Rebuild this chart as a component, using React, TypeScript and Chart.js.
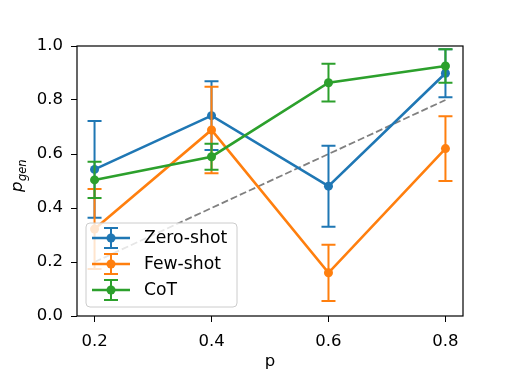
import React, { useEffect, useRef } from "react";
import { Chart, registerables } from "chart.js";

Chart.register(...registerables);

const ps = [0.2, 0.4, 0.6, 0.8];
const xTicks = [0.2, 0.4, 0.6, 0.8];
const zeroShot = [0.543, 0.742, 0.481, 0.899];
const zeroShotErr = [0.179, 0.127, 0.15, 0.089];
const fewShot = [0.322, 0.689, 0.16, 0.62];
const fewShotErr = [0.148, 0.16, 0.104, 0.12];
const cot = [0.504, 0.59, 0.864, 0.926];
const cotErr = [0.067, 0.048, 0.07, 0.062];
const refX = [0.2, 0.8];
const refY = [0.2, 0.8];

const BLUE = "#1f77b4";
const ORANGE = "#ff7f0e";
const GREEN = "#2ca02c";
const FONT = "DejaVu Sans";
const FS = 16.5;
const LEG_FS = 17.2;

const seriesInfo = [
  { label: "Zero-shot", color: BLUE, values: zeroShot, errs: zeroShotErr, order: 2 },
  { label: "Few-shot", color: ORANGE, values: fewShot, errs: fewShotErr, order: 1 },
  { label: "CoT", color: GREEN, values: cot, errs: cotErr, order: 0 },
];

const errorBarPlugin = {
  id: "errorBars",
  beforeDatasetDraw(chart: any, args: any) {
    const ds = chart.data.datasets[args.index];
    if (!ds.errs) return;
    const xs = chart.scales.x;
    const ys = chart.scales.y;
    const ctx = chart.ctx;
    ctx.save();
    ctx.strokeStyle = ds.borderColor;
    ctx.lineWidth = 2;
    ds.data.forEach((pt: any, i: number) => {
      const e = ds.errs[i];
      const px = xs.getPixelForValue(pt.x);
      const top = ys.getPixelForValue(pt.y + e);
      const bot = ys.getPixelForValue(pt.y - e);
      ctx.beginPath();
      ctx.moveTo(px, top);
      ctx.lineTo(px, bot);
      ctx.moveTo(px - 7, top);
      ctx.lineTo(px + 7, top);
      ctx.moveTo(px - 7, bot);
      ctx.lineTo(px + 7, bot);
      ctx.stroke();
    });
    ctx.restore();
  },
  afterDatasetsDraw(chart: any) {
    const { ctx, chartArea } = chart;
    ctx.save();
    ctx.strokeStyle = "#000";
    ctx.lineWidth = 1.2;
    ctx.strokeRect(chartArea.left, chartArea.top, chartArea.right - chartArea.left, chartArea.bottom - chartArea.top);
    ctx.restore();
  },
  afterDraw(chart: any) {
    const { ctx, chartArea } = chart;
    ctx.save();
    // x axis title
    ctx.fillStyle = "#000";
    ctx.font = `${FS}px "${FONT}"`;
    ctx.textAlign = "center";
    ctx.textBaseline = "alphabetic";
    ctx.fillText("p", (chartArea.left + chartArea.right) / 2, 366);
    // y axis title p_gen
    ctx.save();
    ctx.translate(22, 176);
    ctx.rotate(-Math.PI / 2);
    ctx.textAlign = "left";
    const bigFont = `italic ${FS}px "${FONT}"`;
    const smallFont = `italic 11.5px "${FONT}"`;
    ctx.font = bigFont;
    const w1 = ctx.measureText("p").width;
    ctx.font = smallFont;
    const w2 = ctx.measureText("gen").width;
    const start = -(w1 + w2) / 2;
    ctx.font = bigFont;
    ctx.fillText("p", start, 0);
    ctx.font = smallFont;
    ctx.fillText("gen", start + w1 + 0.5, 3.5);
    ctx.restore();

    // legend
    const lx = 86, ly = 223, lw = 151, lh = 84, r = 4;
    ctx.beginPath();
    ctx.moveTo(lx + r, ly);
    ctx.lineTo(lx + lw - r, ly);
    ctx.quadraticCurveTo(lx + lw, ly, lx + lw, ly + r);
    ctx.lineTo(lx + lw, ly + lh - r);
    ctx.quadraticCurveTo(lx + lw, ly + lh, lx + lw - r, ly + lh);
    ctx.lineTo(lx + r, ly + lh);
    ctx.quadraticCurveTo(lx, ly + lh, lx, ly + lh - r);
    ctx.lineTo(lx, ly + r);
    ctx.quadraticCurveTo(lx, ly, lx + r, ly);
    ctx.closePath();
    ctx.fillStyle = "rgba(255,255,255,0.8)";
    ctx.fill();
    ctx.strokeStyle = "#cccccc";
    ctx.lineWidth = 1;
    ctx.stroke();

    const rows = [238, 264, 290];
    seriesInfo.forEach((s, i) => {
      const y = rows[i];
      const cx = 111;
      ctx.strokeStyle = s.color;
      ctx.lineWidth = 2;
      ctx.beginPath();
      ctx.moveTo(cx, y - 10);
      ctx.lineTo(cx, y + 10);
      ctx.moveTo(cx - 7, y - 10);
      ctx.lineTo(cx + 7, y - 10);
      ctx.moveTo(cx - 7, y + 10);
      ctx.lineTo(cx + 7, y + 10);
      ctx.stroke();
      ctx.lineWidth = 2.6;
      ctx.beginPath();
      ctx.moveTo(92, y);
      ctx.lineTo(130, y);
      ctx.stroke();
      ctx.fillStyle = s.color;
      ctx.beginPath();
      ctx.arc(cx, y, 4.5, 0, Math.PI * 2);
      ctx.fill();
      ctx.fillStyle = "#000";
      ctx.font = `${LEG_FS}px "${FONT}"`;
      ctx.textAlign = "left";
      ctx.textBaseline = "middle";
      ctx.fillText(s.label, 144, y + 1);
    });
    ctx.restore();
  },
};

export default function App() {
  const canvasRef = useRef<HTMLCanvasElement | null>(null);

  useEffect(() => {
    const datasets: any[] = seriesInfo.map((s) => ({
      label: s.label,
      data: ps.map((x, i) => ({ x, y: s.values[i] })),
      errs: s.errs,
      borderColor: s.color,
      backgroundColor: s.color,
      borderWidth: 2.6,
      pointRadius: 4.5,
      pointBorderWidth: 0,
      pointBackgroundColor: s.color,
      showLine: true,
      order: s.order,
    }));
    datasets.push({
      label: "ref",
      data: refX.map((x, i) => ({ x, y: refY[i] })),
      borderColor: "#808080",
      borderWidth: 1.8,
      borderDash: [7, 3],
      pointRadius: 0,
      showLine: true,
      order: 3,
    });

    const tickFont = { family: FONT, size: FS };
    const chart = new Chart(canvasRef.current as HTMLCanvasElement, {
      type: "scatter",
      data: { datasets },
      plugins: [errorBarPlugin],
      options: {
        animation: false,
        responsive: true,
        maintainAspectRatio: false,
        layout: { padding: { top: 46, right: 52, left: 0, bottom: 0 } },
        plugins: { legend: { display: false }, tooltip: { enabled: false } },
        scales: {
          x: {
            type: "linear",
            min: 0.17,
            max: 0.83,
            afterBuildTicks: (scale: any) => {
              scale.ticks = xTicks.map((v) => ({ value: v }));
            },
            afterFit: (scale: any) => {
              scale.height = 70;
            },
            border: { display: false },
            grid: { drawOnChartArea: false, drawTicks: true, tickLength: 6, color: "#000", lineWidth: 1 },
            ticks: {
              font: tickFont,
              color: "#000",
              padding: 10,
              maxRotation: 0,
              callback: (v: any) => Number(v).toFixed(1),
            },
          },
          y: {
            type: "linear",
            min: 0,
            max: 1,
            afterFit: (scale: any) => {
              scale.width = 77;
            },
            border: { display: false },
            grid: { drawOnChartArea: false, drawTicks: true, tickLength: 6, color: "#000", lineWidth: 1 },
            ticks: {
              stepSize: 0.2,
              font: tickFont,
              color: "#000",
              padding: 8,
              callback: (v: any) => Number(v).toFixed(1),
            },
          },
        },
      } as any,
    });
    return () => chart.destroy();
  }, []);

  return (
    <div style={{ position: "fixed", left: 0, top: 0, width: 515, height: 386, background: "#fff" }}>
      <canvas ref={canvasRef} />
    </div>
  );
}
